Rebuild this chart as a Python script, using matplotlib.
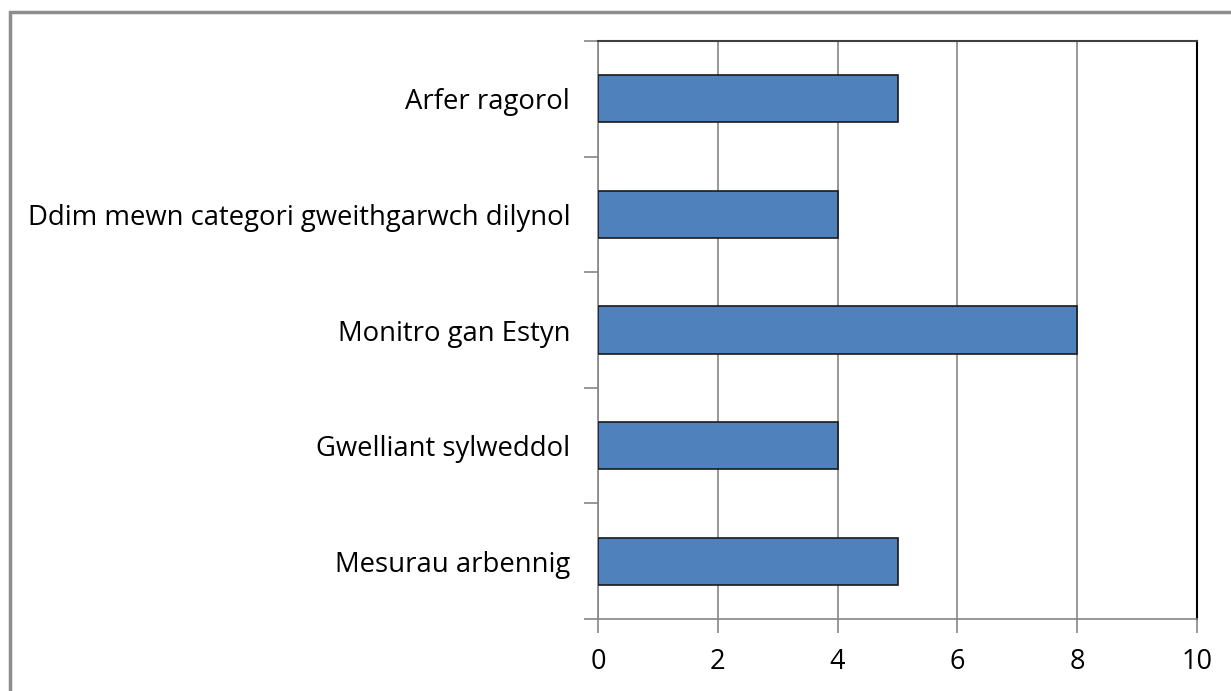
import matplotlib
matplotlib.use("Agg")
import matplotlib.pyplot as plt
from matplotlib.patches import Rectangle

categories = ["Mesurau arbennig", "Gwelliant sylweddol", "Monitro gan Estyn",
              "Ddim mewn categori gweithgarwch dilynol", "Arfer ragorol"]
values = [5, 4, 8, 4, 5]
xticks = [0, 2, 4, 6, 8, 10]

plt.rcParams['font.family'] = ['Open Sans', 'DejaVu Sans']

W, H = 1231, 691
fig = plt.figure(figsize=(W / 100, H / 100), dpi=100)
ax = fig.add_axes([598 / W, 1 - 619 / H, (1197 - 598) / W, (619 - 41) / H])

fig.patches.append(Rectangle((10 / W, -0.1), 1.2, 1 - 12 / H + 0.1, transform=fig.transFigure,
                             fill=False, edgecolor="#8c8c8c", linewidth=2.5, zorder=0))

ypos = list(range(len(categories)))
ax.barh(ypos, values, height=0.41, color="#4F81BD", edgecolor="#1a1a1a", linewidth=1.2, zorder=3)

ax.set_xlim(0, 10)
ax.set_ylim(-0.5, len(categories) - 0.5)
ax.set_xticks(xticks)
ax.set_xticklabels([str(t) for t in xticks], fontsize=19.5)
ax.set_yticks(ypos)
ax.set_yticklabels(categories, fontsize=19.8)
ax.tick_params(axis='y', length=0, pad=20)
ax.tick_params(axis='x', length=10, color="#868686", width=1.2, pad=11)

# category boundary ticks on y
ax.set_yticks([i - 0.5 for i in range(len(categories) + 1)], minor=True)
ax.tick_params(axis='y', which='minor', length=10, color="#868686", width=1.2)

ax.grid(axis='x', color="#868686", linewidth=1.2, zorder=0)
ax.set_axisbelow(True)

ax.spines['left'].set_color("#868686")
ax.spines['bottom'].set_color("#868686")
ax.spines['left'].set_linewidth(1.2)
ax.spines['bottom'].set_linewidth(1.2)
ax.spines['top'].set_color("#404040")
ax.spines['right'].set_color("#000000")
ax.spines['top'].set_linewidth(1.5)
ax.spines['right'].set_linewidth(1.5)

fig.savefig("out.png", dpi=100)
